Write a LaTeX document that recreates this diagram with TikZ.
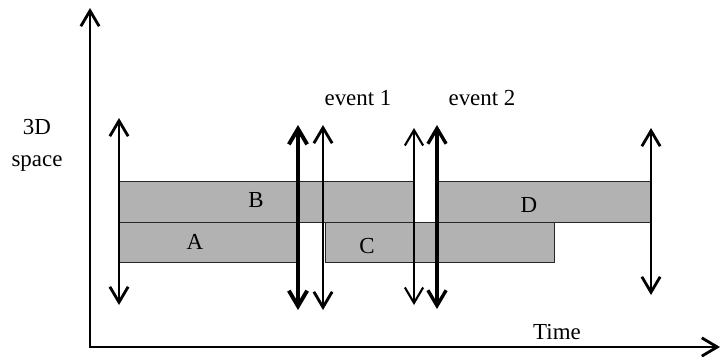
\documentclass[tikz,border=0pt]{standalone}
\usepackage{fontspec}
\setmainfont{Liberation Serif}
\usetikzlibrary{arrows.meta}

\begin{document}
\begin{tikzpicture}[x=0.025cm, y=-0.025cm,
    every node/.style={font=\fontsize{16.3}{22.7}\selectfont, inner sep=0pt},
    bar/.style={fill=black!30, draw=black!85, line width=0.7pt},
    span/.style={{Straight Barb[length=11pt,width=13pt]}-{Straight Barb[length=11pt,width=13pt]}},
    axes/.style={line width=2pt, {Straight Barb[length=11pt,width=13pt]}-{Straight Barb[length=11pt,width=13pt]}}]
\useasboundingbox (0,0) rectangle (720,356);

%draw axes
    \coordinate (ytop) at (90,8);
    \coordinate (origin) at (90,347);
    \coordinate (xend) at (720,347);
    \draw[axes] (ytop) -- (origin) -- (xend);

%draw bars
    \draw[bar] (119,181) rectangle (413,222); % B
    \draw[bar] (437,181) rectangle (651,222); % D
    \draw[bar] (119,222) rectangle (298,262); % A
    \draw[bar] (325,222) rectangle (554,262); % C

%draw double arrows
    \foreach \x/\t/\b/\w [count=\i] in {119/118/305/2, 298/125/310/2.8, 323/125/310/2,
                                        414/128/305/1.5, 437/125/309/2.4, 651/128/295/2}
    {
      \coordinate (top\i) at (\x,\t);
      \coordinate (bot\i) at (\x,\b);
      \draw[span, line width=\w pt] (top\i) -- (bot\i);
    }

%draw labels
    \node[align=center] (space) at (37,145.5) {3D\\space};
    \node[anchor=base] (evA) at (358,105) {event 1};
    \node[anchor=base] (evB) at (482,105) {event 2};
    \node[anchor=base] (lblB) at (256,207) {B};
    \node[anchor=base] (lblD) at (529,212) {D};
    \node[anchor=base] (lblA) at (195,249) {A};
    \node[anchor=base] (lblC) at (367,253) {C};
    \node[anchor=base] (time) at (557,339) {Time};

\end{tikzpicture}
\end{document}
